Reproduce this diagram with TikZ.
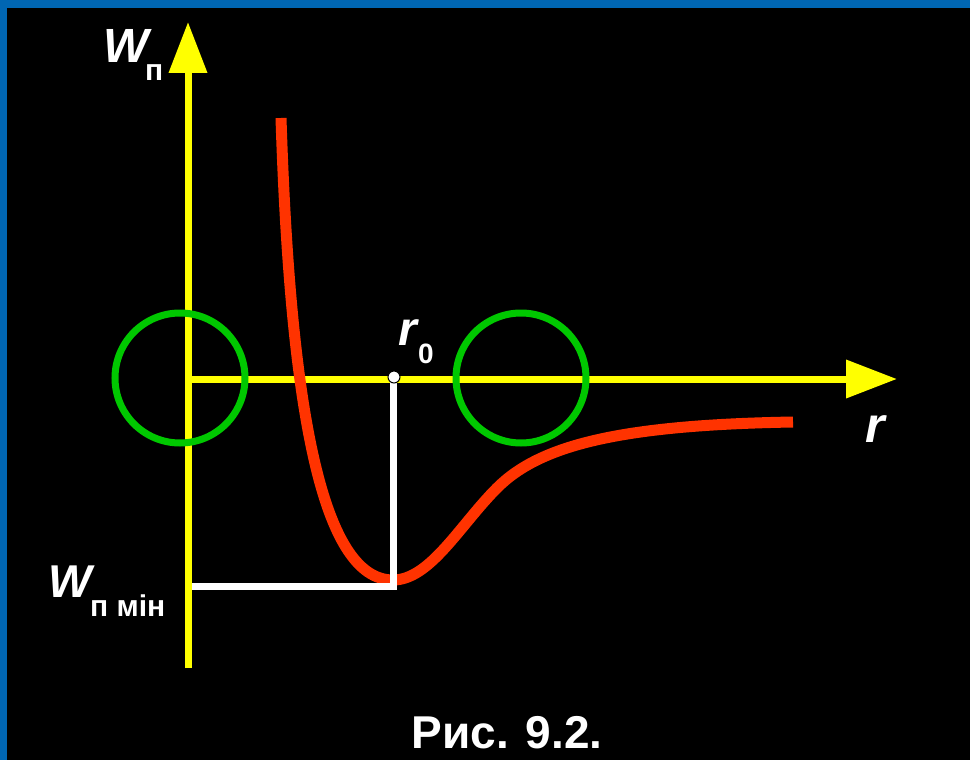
\documentclass[tikz,border=0pt]{standalone}
\usepackage{fontspec}
\setmainfont{Liberation Sans}
\usepackage{tikz}
\usetikzlibrary{arrows.meta}
\definecolor{frameblue}{RGB}{0, 102, 179}
\definecolor{curvered}{RGB}{255, 51, 0}
\definecolor{ringgreen}{RGB}{0, 200, 0}
\definecolor{axisyellow}{RGB}{255, 255, 0}

\begin{document}
\begin{tikzpicture}[x=1pt, y=-1pt,
  axis/.style={axisyellow, line width=7pt, -{Triangle[width=37pt, length=51pt]}},
  ring/.style={draw=ringgreen, line width=7pt, circle, inner sep=0pt, minimum size=130pt},
  guide/.style={white, line width=7pt},
  lab/.style={white, inner sep=0pt, anchor=base west}]

  \pgfmathsetmacro{\xo}{188};
  \pgfmathsetmacro{\yo}{379};
  \pgfmathsetmacro{\xr}{393.5};
  \pgfmathsetmacro{\ym}{586};

  \fill[frameblue] (0, 0) rectangle (970, 760);
  \fill[black] (7, 8) rectangle (970, 760);
  \useasboundingbox (0, 0) rectangle (970, 760);

  \coordinate (O) at (\xo, \yo);
  \coordinate (ybot) at (\xo, 668);
  \coordinate (ytip) at (\xo, 22);
  \coordinate (xtip) at (897, \yo);
  \coordinate (r0) at (\xr, \yo);
  \coordinate (wmin) at (192, \ym);
  \coordinate (bottom) at (\xr, \ym);

  \draw[axis] (ybot) -- (ytip);
  \draw[axis] (O) -- (xtip);

  \node[ring] (lring) at (180, 378) {};
  \node[ring] (rring) at (521, 378) {};

  % potential energy curve
  \coordinate (cstart) at (281, 118);
  \coordinate (cmin) at (393, 580);
  \coordinate (cmid) at (497, 488);
  \coordinate (cend) at (793, 422);
  \draw[curvered, line width=11pt]
    (cstart) .. controls (290, 400) and (320, 580) .. (cmin)
    .. controls (430, 580) and (460, 525) .. (cmid)
    .. controls (540, 445) and (620, 425) .. (cend);

  \draw[guide] (wmin) -- (bottom) -- (r0);
  \node[circle, fill=white, draw=black, line width=1pt, inner sep=0pt,
        minimum size=12pt] (r0dot) at (394, 377) {};

  \node[lab, font=\fontsize{48}{48}\selectfont\bfseries\itshape] (wlab) at (103, 63) {W};
  \node[lab, font=\fontsize{30}{30}\selectfont\bfseries] (wsub) at (145, 81) {п};

  \node[lab, font=\fontsize{46}{46}\selectfont\bfseries\itshape] (wminlab) at (48, 597) {W};
  \node[lab, font=\fontsize{30}{30}\selectfont\bfseries] (wminsub) at (90, 616) {п мін};

  \node[lab, font=\fontsize{48}{48}\selectfont\bfseries\itshape] (r0lab) at (398, 345) {r};
  \node[lab, font=\fontsize{28}{28}\selectfont\bfseries] (r0sub) at (418, 363) {0};

  \node[lab, font=\fontsize{50}{50}\selectfont\bfseries\itshape] (rlab) at (865, 442) {r};

  \node[lab, anchor=base, font=\fontsize{46}{46}\selectfont\bfseries] (caption) at (507, 748) {Рис. 9.2.};

\end{tikzpicture}
\end{document}
